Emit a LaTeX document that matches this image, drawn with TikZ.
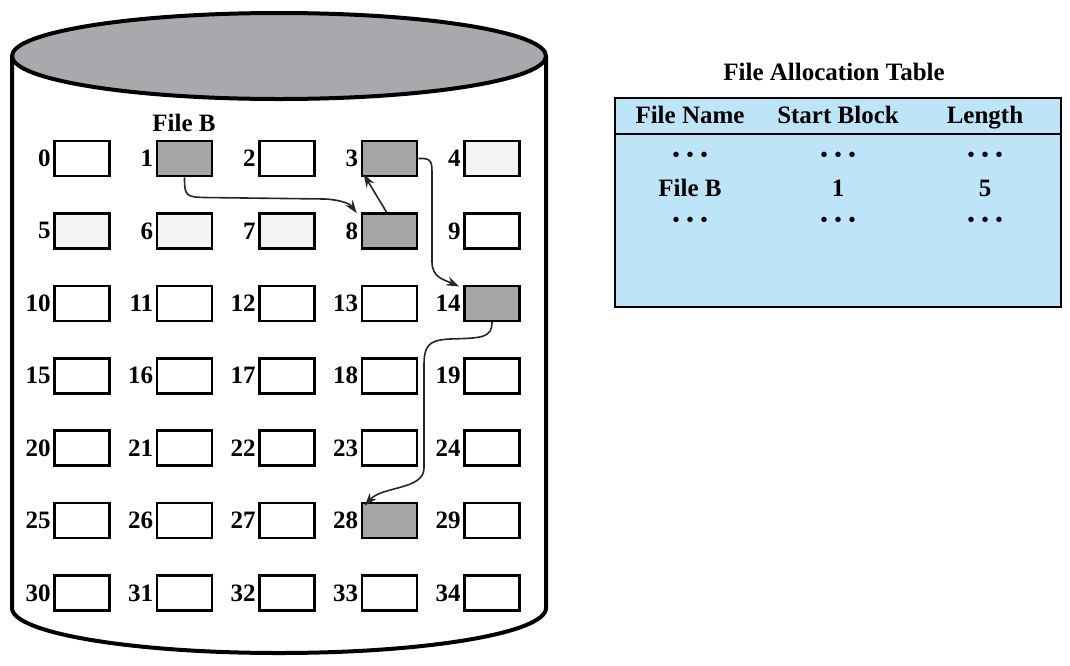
\documentclass[tikz,border=0pt]{standalone}
\usepackage{fontspec}
\setmainfont{Liberation Serif}
\usetikzlibrary{arrows.meta}
\definecolor{topgray}{HTML}{A7A9AC}
\definecolor{usedgray}{HTML}{A6A6A6}
\definecolor{freegray}{HTML}{F3F3F3}
\definecolor{fatblue}{HTML}{BEE5F7}
\newcommand\dotrow{•\hspace{7pt}•\hspace{7pt}•}
\begin{document}
\begin{tikzpicture}[x=1pt,y=-1pt,
  blk/.style={draw=black, line width=2.6pt, minimum width=55pt, minimum height=35pt, inner sep=0pt, fill=white},
  used/.style={blk, fill=usedgray},
  lite/.style={blk, fill=freegray},
  num/.style={font=\fontsize{25}{25}\selectfont\bfseries, anchor=east, inner sep=1pt},
  lbl/.style={font=\fontsize{25}{25}\selectfont\bfseries, inner sep=0pt, text height=17pt, text depth=5pt},
  dots/.style={font=\fontsize{20}{20}\selectfont\bfseries, inner sep=0pt},
  link/.style={draw=black!85, line width=1.6pt, -{Stealth[length=13pt,width=9pt]}}]
\useasboundingbox (0,0) rectangle (1070,665);
% cylinder
\draw[line width=4pt, fill=white] (12,56) -- (12,608)
  arc[start angle=180, end angle=0, x radius=267, y radius=45] -- (546,56);
\draw[line width=4pt, fill=topgray] (279,56) ellipse[x radius=267, y radius=43];
% blocks
\foreach \i/\s in {0/blk,1/used,2/blk,3/used,4/lite,
                   5/lite,6/lite,7/lite,8/used,9/blk,
                   10/blk,11/blk,12/blk,13/blk,14/used,
                   15/blk,16/blk,17/blk,18/blk,19/blk,
                   20/blk,21/blk,22/blk,23/blk,24/blk,
                   25/blk,26/blk,27/blk,28/used,29/blk,
                   30/blk,31/blk,32/blk,33/blk,34/blk}{
  \pgfmathtruncatemacro\r{int(\i/5)}
  \pgfmathtruncatemacro\c{mod(\i,5)}
  \node[\s] (b\i) at ({82+102.5*\c},{158.5+72.4*\r}) {};
  \node[num] (n\i) at ([xshift=-1.3pt]b\i.west) {\i};
}
\node[lbl] (fileb) at (184,125) {File B};
% links
\draw[link] (b1.south) .. controls (184.5,196) and (186,197) .. (205,197.5)
  -- (325,199) .. controls (342,200) and (350,204) .. ([shift={(-4pt,-1pt)}]b8.north west);
\draw[link] ([xshift=-3pt]b8.north) -- ([shift={(3pt,3pt)}]b3.south west);
\draw[link] (b3.east) .. controls (432,158) and (432,161) .. (432,176)
  -- (432,262) .. controls (432,278) and (445,280) .. ([shift={(-4pt,-2pt)}]b14.north west);
\draw[link] (b14.south) .. controls (492,338) and (482,338) .. (450,339)
  .. controls (428,340) and (424,346) .. (424,366) -- (424,468)
  .. controls (424,490) and (382,486) .. ([shift={(4pt,-4pt)}]b28.north west);
% file allocation table
\node[lbl] (title) at (834,74) {File Allocation Table};
\node[draw=black, line width=2.6pt, fill=fatblue, minimum width=446pt, minimum height=209pt, inner sep=0pt] (fat) at (838,202.5) {};
\coordinate (hl) at (615,134);
\coordinate (hr) at (1061,134);
\draw[line width=2.6pt] (hl) -- (hr);
\node[lbl] (h1) at (690,117) {File Name};
\node[lbl] (h2) at (838,117) {Start Block};
\node[lbl] (h3) at (985,117) {Length};
\node[dots] (d11) at (690,157) {\dotrow};
\node[dots] (d12) at (838,157) {\dotrow};
\node[dots] (d13) at (985,157) {\dotrow};
\node[lbl] (r1) at (690,190) {File B};
\node[lbl] (r2) at (838,190) {1};
\node[lbl] (r3) at (985,190) {5};
\node[dots] (d31) at (690,222) {\dotrow};
\node[dots] (d32) at (838,222) {\dotrow};
\node[dots] (d33) at (985,222) {\dotrow};
\end{tikzpicture}
\end{document}
